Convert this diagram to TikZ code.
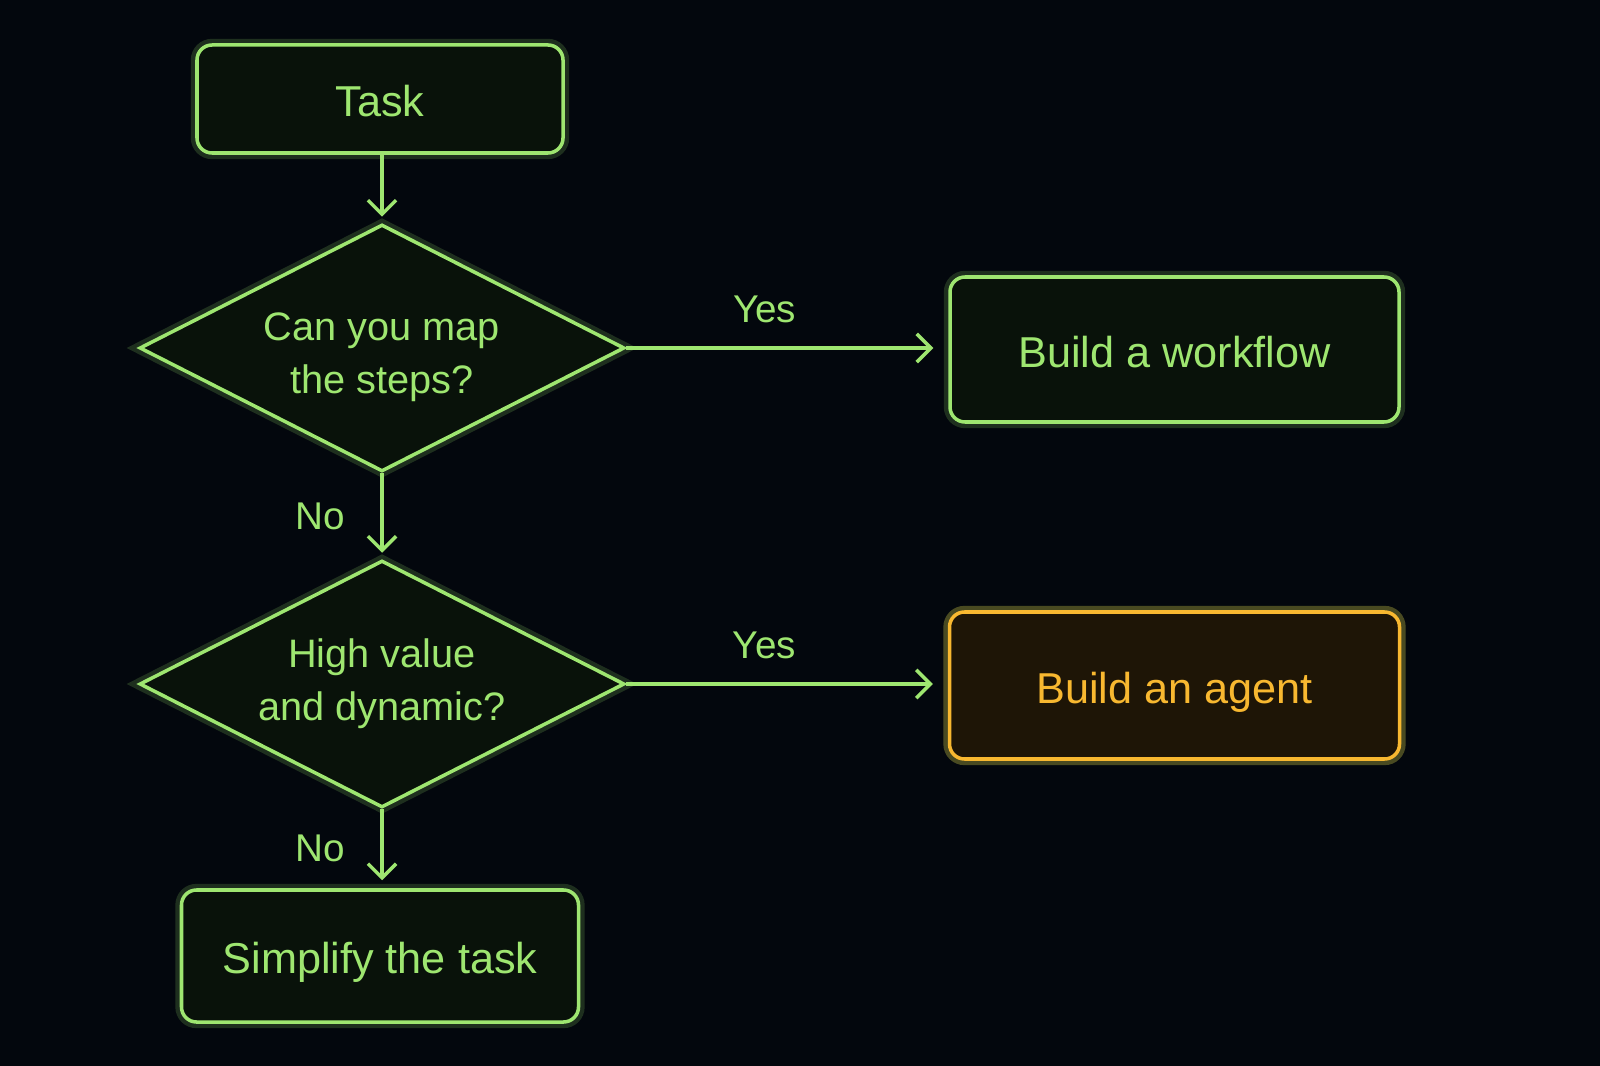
\documentclass[tikz,border=0pt]{standalone}
\usepackage{fontspec}
\setmainfont{Liberation Sans}
\usepackage{xcolor}
\usepackage{tikz}
\usetikzlibrary{arrows.meta, positioning, shapes.geometric}
\definecolor{nightbg}{RGB}{3,7,13}
\definecolor{flowgreen}{RGB}{158,230,112}
\definecolor{greenfill}{RGB}{9,18,10}
\definecolor{flowamber}{RGB}{248,184,48}
\definecolor{amberfill}{RGB}{30,21,6}

\begin{document}
\begin{tikzpicture}[
  every node/.style={font=\fontsize{12.3}{15}\selectfont},
  box/.style={rectangle, rounded corners=0.15cm, draw=flowgreen, fill=greenfill,
              line width=1pt, text=flowgreen, align=center,
              text height=1.05em, text depth=0.05em,
              preaction={draw=flowgreen, line width=3.5pt, opacity=0.18}},
  decision/.style={diamond, draw=flowgreen, fill=greenfill, line width=1pt,
                   text=flowgreen, align=center, inner sep=0pt, aspect=1.96,
                   minimum width=4.85cm, minimum height=2.47cm,
                   font=\fontsize{11.3}{15}\selectfont,
                   preaction={draw=flowgreen, line width=3.5pt, opacity=0.18}},
  agentbox/.style={box, draw=flowamber, fill=amberfill, text=flowamber,
                   preaction={draw=flowamber, line width=3.5pt, opacity=0.2}},
  arr/.style={-{Straight Barb[length=4pt, width=8pt]}, line width=1pt,
              draw=flowgreen, shorten >=0.06cm},
  lbl/.style={text=flowgreen, font=\fontsize{11}{14}\selectfont}
]
\fill[nightbg] (0,0) rectangle (16,-10.66);
\useasboundingbox (0,0) rectangle (16,-10.66);
\node[box, minimum width=3.66cm, minimum height=1.08cm] (task) at (3.8,-0.99) {Task};
\node[decision] (mapq) at (3.82,-3.48) {\rule{0pt}{13pt}Can you map\\the steps?};
\node[decision] (dynq) at (3.82,-6.84) {High value\\and dynamic?};
\node[box, minimum width=3.97cm, minimum height=1.32cm] (simplify) at (3.8,-9.56) {Simplify the task};
\node[box, minimum width=4.49cm, minimum height=1.45cm] (workflow) at (11.745,-3.495) {Build a workflow};
\node[agentbox, minimum width=4.5cm, minimum height=1.47cm] (agent) at (11.745,-6.855) {Build an agent};
\draw[arr] (task.south -| mapq.north) -- (mapq.north);
\draw[arr, shorten >=0.15cm] (mapq.east) -- (workflow.west |- mapq.east)
  node[lbl, pos=0.43, above=0.12cm] {Yes};
\draw[arr] (mapq.south) -- (dynq.north) node[lbl, midway, left=0.24cm] {No};
\draw[arr, shorten >=0.15cm] (dynq.east) -- (agent.west |- dynq.east)
  node[lbl, pos=0.43, above=0.12cm] {Yes};
\draw[arr, shorten >=0.08cm] (dynq.south) -- (simplify.north -| dynq.south)
  node[lbl, midway, left=0.24cm] {No};
\end{tikzpicture}
\end{document}
